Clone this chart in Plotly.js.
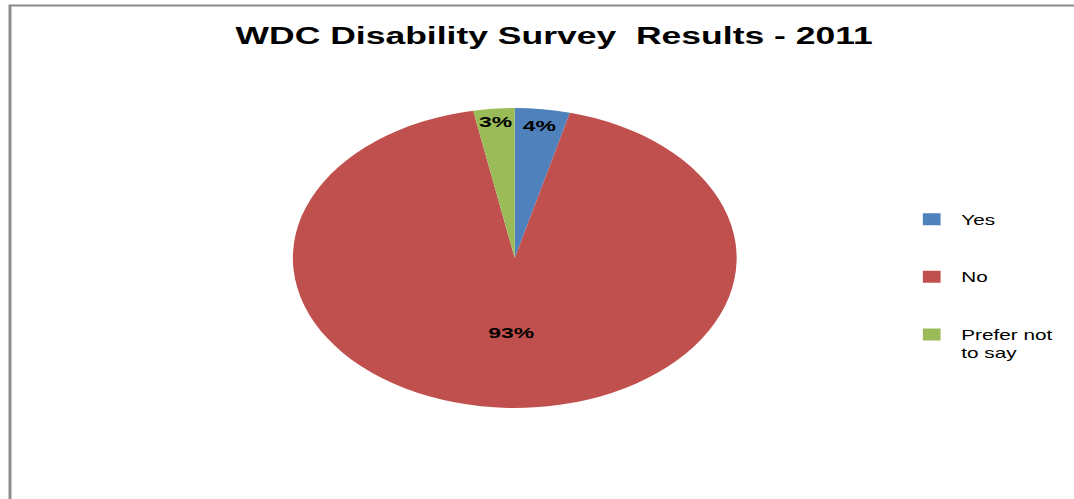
<!DOCTYPE html>
<html><head><meta charset="utf-8">
<script src="https://cdn.plot.ly/plotly-3.0.1.min.js"></script>
<style>
html,body{margin:0;padding:0;background:#fff;overflow:hidden;width:1074px;height:499px;}
#wrap{width:726px;height:499px;transform:scaleX(1.4793);transform-origin:0 0;}
#chart{width:726px;height:499px;}
</style></head><body>
<div id="wrap"><div id="chart"></div></div>
<script>
// ---- data ----
const categories = ['Yes', 'No', 'Prefer not to say'];
const values = [4, 93, 3];
const colors = ['#4F81BD', '#C0504D', '#9BBB59'];
const chartTitle = 'WDC Disability Survey  Results - 2011';

// wrap long legend names and pad entries so items are spaced like the original
function legendLabel(name, i, arr) {
  const words = name.split(' ');
  const lines = [];
  let cur = '';
  words.forEach(w => {
    const t = cur ? cur + ' ' + w : w;
    if (t.length > 10 && cur) { lines.push(cur); cur = w; } else { cur = t; }
  });
  if (cur) lines.push(cur);
  if (i < arr.length - 1) { while (lines.length < 3) lines.push('\u00a0'); }
  return lines.join('<br>');
}
const labels = categories.map(legendLabel);

const trace = {
  type: 'pie',
  labels: labels,
  values: values,
  sort: false,
  direction: 'clockwise',
  rotation: 0,
  marker: {colors: colors, line: {width: 0}},
  textinfo: 'percent',
  textposition: 'inside',
  insidetextorientation: 'horizontal',
  textfont: {family: 'Liberation Sans', size: 15.5, color: '#000000', weight: 'bold'},
  hoverinfo: 'none',
  domain: {x: [0.2, 0.7586], y: [0.1824, 0.7836]}
};

const layout = {
  width: 726, height: 499,
  margin: {l: 0, r: 0, t: 0, b: 0},
  paper_bgcolor: '#ffffff',
  plot_bgcolor: '#ffffff',
  uniformtext: {minsize: 15.5, mode: 'show'},
  title: {
    text: chartTitle,
    x: 0.516, xanchor: 'center', xref: 'paper',
    y: 0.928, yanchor: 'middle', yref: 'container',
    font: {family: 'Liberation Sans', size: 24, color: '#000000', weight: 'bold'}
  },
  showlegend: true,
  legend: {
    x: 0.84, xanchor: 'left', y: 0.592, yanchor: 'top',
    valign: 'top',
    font: {family: 'Liberation Sans', size: 14, color: '#000000'},
    bgcolor: 'rgba(0,0,0,0)'
  },
  shapes: [{
    type: 'rect', xref: 'paper', yref: 'paper',
    x0: 0.0093, x1: 1.05, y0: -0.05, y1: 1 - 5.5 / 499,
    line: {color: '#8c8c8c', width: 2}, fillcolor: 'rgba(0,0,0,0)'
  }]
};

Plotly.newPlot('chart', [trace], layout, {staticPlot: true, displayModeBar: false});
</script>
</body></html>
